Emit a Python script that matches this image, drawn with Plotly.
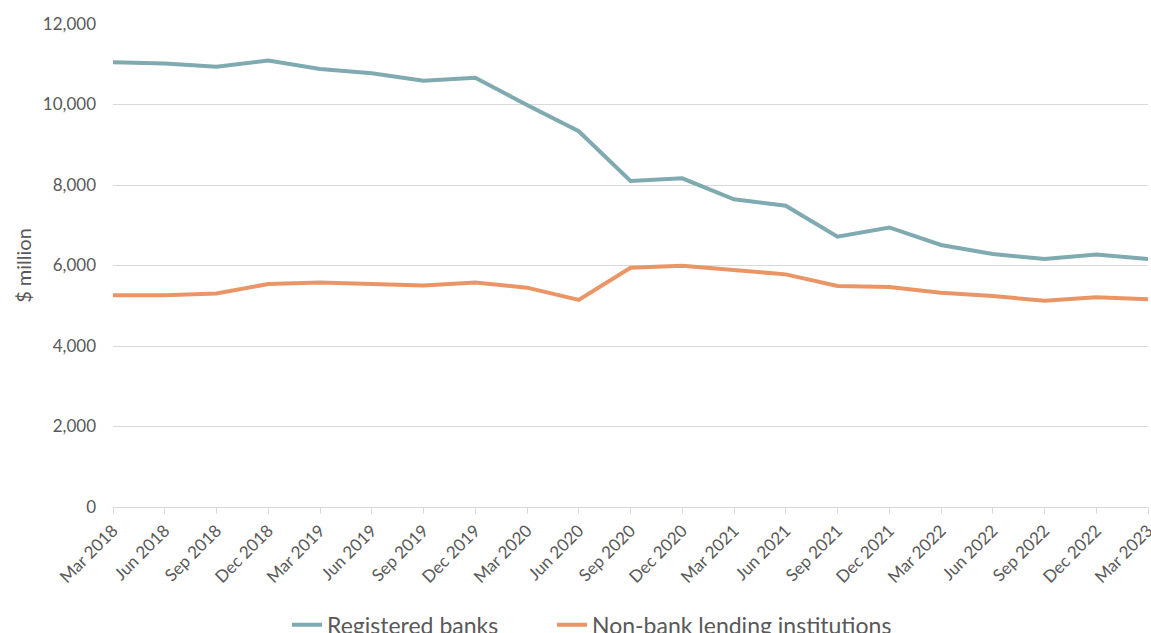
import plotly.graph_objects as go

quarters = [
    "Mar 2018", "Jun 2018", "Sep 2018", "Dec 2018",
    "Mar 2019", "Jun 2019", "Sep 2019", "Dec 2019",
    "Mar 2020", "Jun 2020", "Sep 2020", "Dec 2020",
    "Mar 2021", "Jun 2021", "Sep 2021", "Dec 2021",
    "Mar 2022", "Jun 2022", "Sep 2022", "Dec 2022",
    "Mar 2023",
]

registered_banks = [
    11050, 11020, 10940, 11090,
    10880, 10775, 10590, 10665,
    9990, 9335, 8100, 8165,
    7645, 7485, 6715, 6945,
    6510, 6285, 6160, 6275,
    6160,
]

non_bank_lending = [
    5260, 5260, 5305, 5540,
    5580, 5550, 5505, 5580,
    5450, 5145, 5945, 5995,
    5885, 5780, 5490, 5465,
    5325, 5240, 5125, 5210,
    5160,
]

y_ticks = [0, 2000, 4000, 6000, 8000, 10000, 12000]

TEAL = "#7faab0"
ORANGE = "#ea9566"
TEXT = "#595959"
GRID = "#d9d9d9"
FONT = "Lato, 'Open Sans', sans-serif"

fig = go.Figure()
fig.add_trace(go.Scatter(
    x=quarters, y=registered_banks, mode="lines",
    name="Registered banks",
    line=dict(color=TEAL, width=4),
    legend="legend",
))
fig.add_trace(go.Scatter(
    x=quarters, y=non_bank_lending, mode="lines",
    name="Non-bank lending institutions",
    line=dict(color=ORANGE, width=4),
    legend="legend2",
))

legend_style = dict(
    orientation="h", xref="container", yref="container",
    xanchor="left", y=0.047, yanchor="top",
    font=dict(size=23, color=TEXT), bgcolor="rgba(0,0,0,0)",
)

fig.update_layout(
    width=1151, height=633,
    margin=dict(l=113, r=3, t=24, b=126),
    paper_bgcolor="white", plot_bgcolor="white",
    font=dict(family=FONT, color=TEXT, size=17),
    showlegend=True,
    legend=dict(x=287 / 1151, **legend_style),
    legend2=dict(x=552 / 1151, **legend_style),
    xaxis=dict(
        type="category", range=[0, len(quarters) - 1],
        tickangle=-45, tickfont=dict(size=17, color=TEXT),
        showgrid=False, showline=True, linecolor=GRID, linewidth=1,
        ticks="outside", ticklen=6, tickcolor=GRID,
        automargin=False,
    ),
    yaxis=dict(
        range=[0, 12000], tickvals=y_ticks,
        tickformat=",", tickfont=dict(size=17, color=TEXT),
        showgrid=True, gridcolor=GRID, gridwidth=1,
        zeroline=False, showline=False, ticks="",
        ticklabelstandoff=16, automargin=False,
        title=dict(text="$ million", font=dict(size=20, color=TEXT), standoff=5),
    ),
)

fig.write_html("out.html")
